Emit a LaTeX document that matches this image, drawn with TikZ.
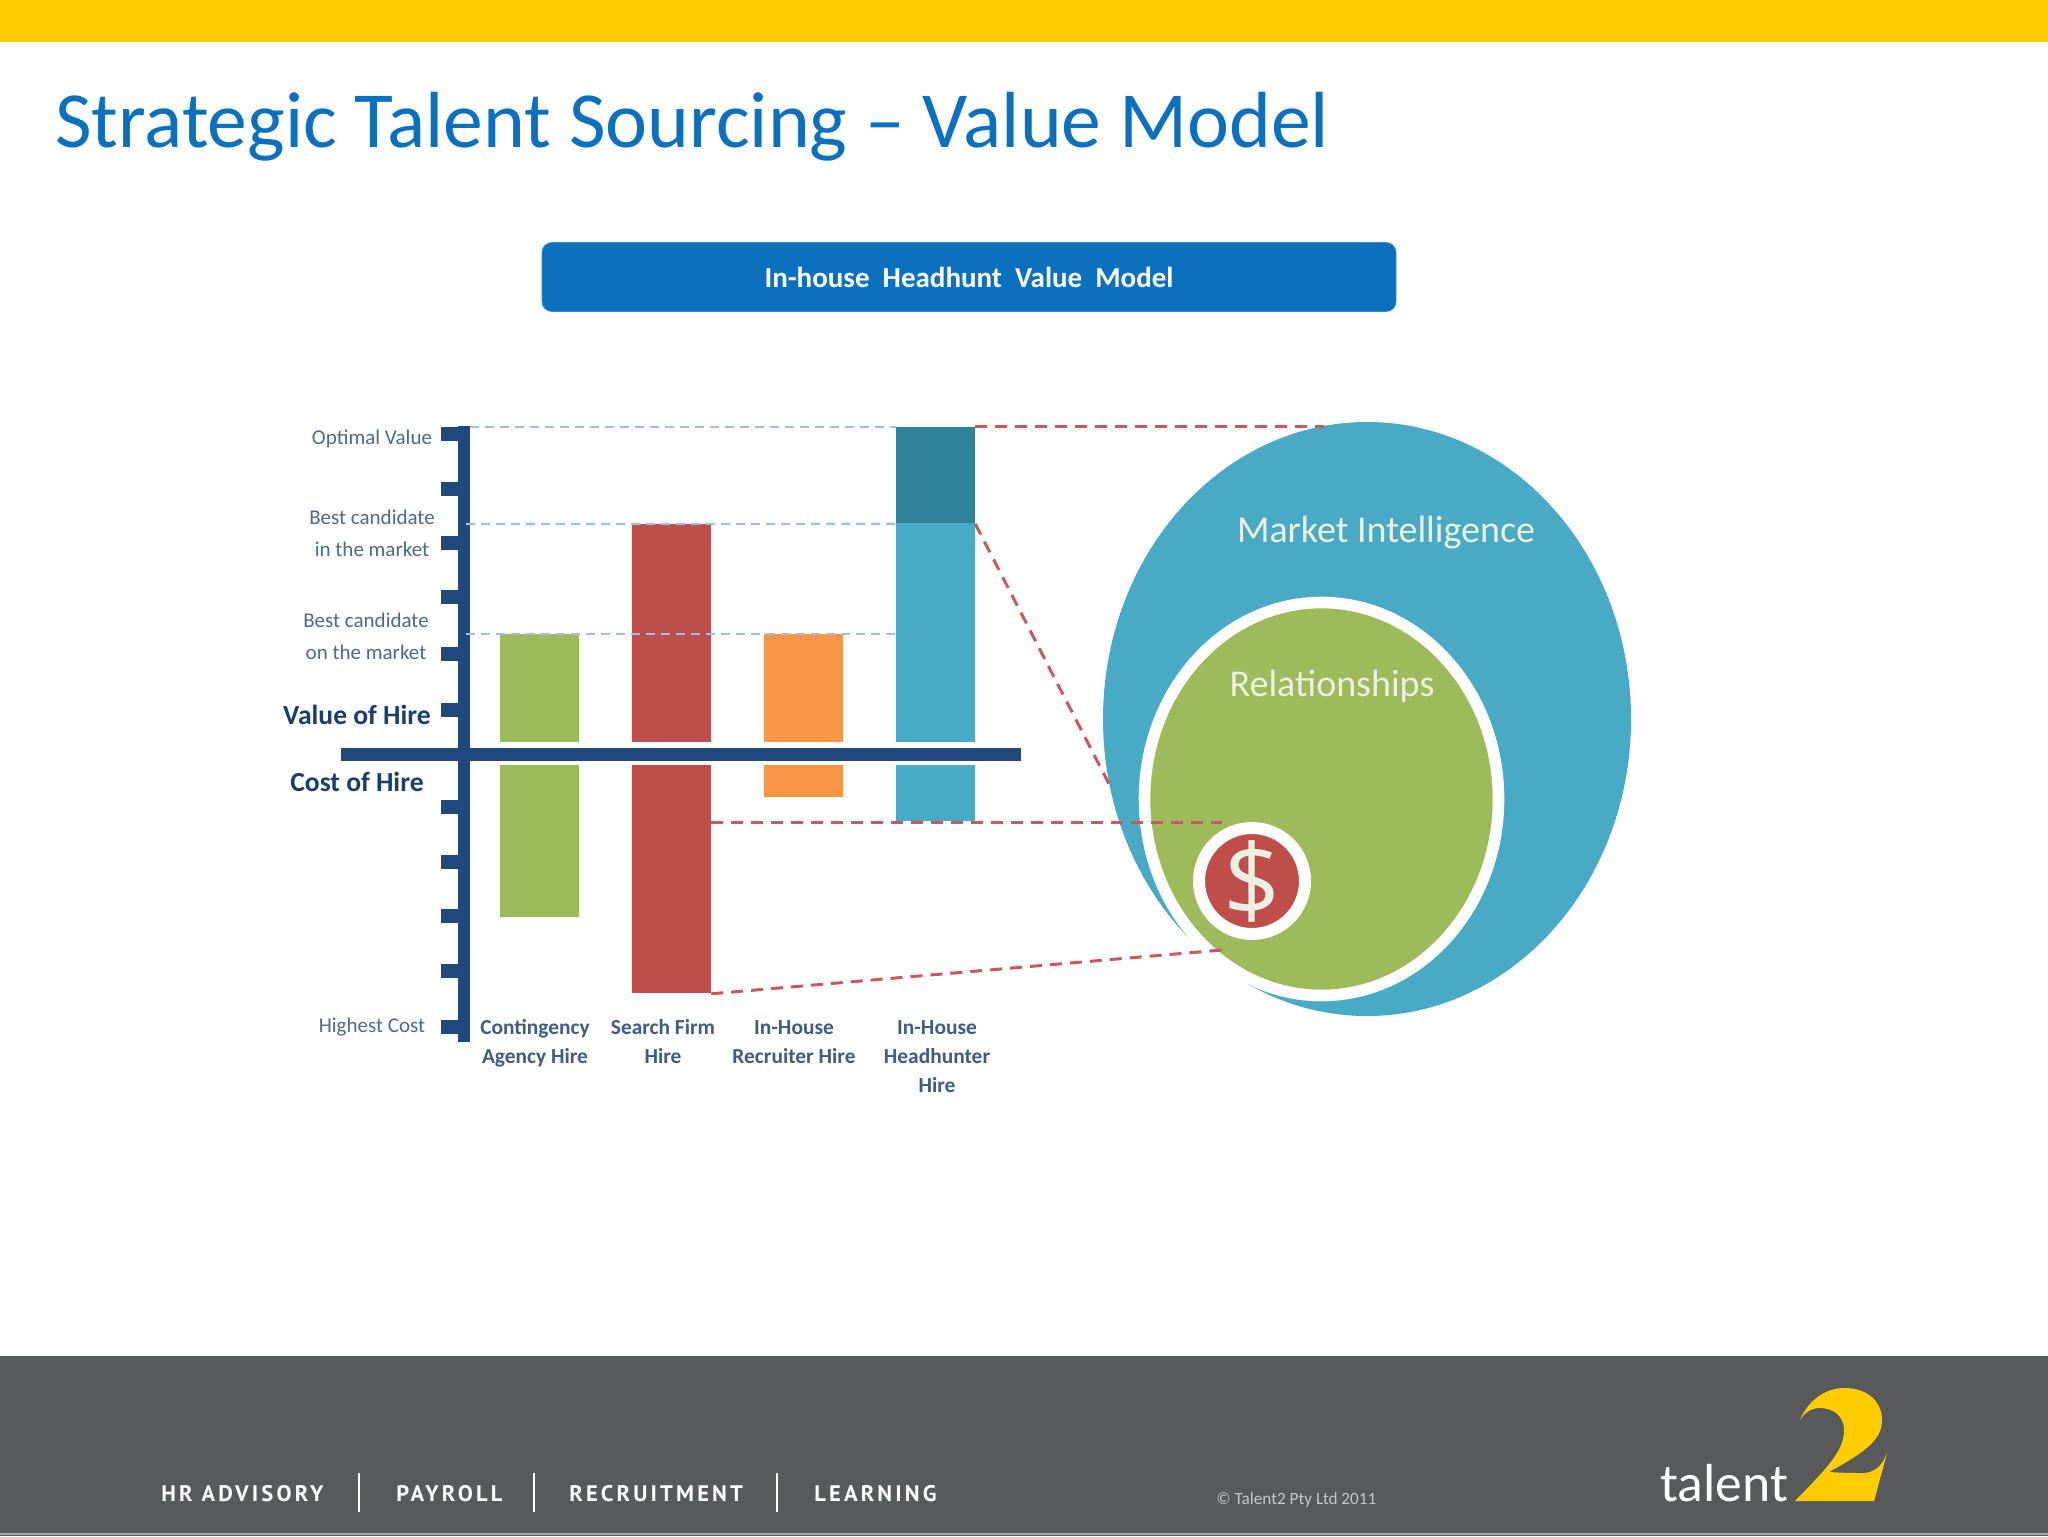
\documentclass[tikz,border=0pt]{standalone}
\usepackage{fontspec}
\usepackage{xcolor}
\usepackage{tikz}
\usetikzlibrary{shapes.geometric}
\setmainfont{Carlito}
\newfontfamily\footfont[LetterSpace=14]{PT Sans}
\newfontfamily\signfont{Open Sans}
\definecolor{bandyellow}{RGB}{255, 204, 0}
\definecolor{titleblue}{RGB}{11, 112, 190}
\definecolor{footgrey}{RGB}{88, 89, 91}
\definecolor{axisnavy}{RGB}{31, 73, 125}
\definecolor{labelslate}{RGB}{79, 105, 140}
\definecolor{hirenavy}{RGB}{25, 62, 110}
\definecolor{guideblue}{RGB}{160, 190, 232}
\definecolor{guidered}{RGB}{200, 90, 94}
\definecolor{bargreen}{RGB}{157, 187, 90}
\definecolor{barred}{RGB}{191, 78, 74}
\definecolor{barorange}{RGB}{248, 150, 70}
\definecolor{barblue}{RGB}{73, 170, 197}
\definecolor{bardark}{RGB}{46, 131, 155}
\definecolor{softwhite}{RGB}{236, 240, 226}

\begin{document}
\begin{tikzpicture}[
        x=0.5pt, y=-0.5pt,
        bar/.style={rectangle, anchor=north west, inner sep=0pt, minimum width=39.2pt},
        tag/.style={text=labelslate, font=\fontsize{10.5}{16}\selectfont, align=center},
        hire/.style={text=hirenavy, font=\fontsize{13.8}{16}\selectfont\bfseries},
        hirecat/.style={text=labelslate!70!hirenavy, font=\fontsize{10.7}{14.5}\selectfont\bfseries, align=center},
        footitem/.style={text=white, font=\footfont\fontsize{11.25}{14}\selectfont\bfseries, anchor=base west, inner sep=0pt},
        footbar/.style={white, line width=1pt},
        guide/.style={guideblue, line width=1.1pt, dash pattern=on 4.5pt off 3pt},
        cutline/.style={guidered, line width=1.5pt, dash pattern=on 6pt off 4pt}
    ]
    \useasboundingbox (0,0) rectangle (2048,1536);
    \fill[white] (0,0) rectangle (2048,1536);

    % Header and footer bands
    \fill[bandyellow] (0,0) rectangle (2048,42);
    \fill[footgrey] (0,1356) rectangle (2048,1536);
    \draw[gray!70, line width=1pt] (0,1534) -- (2048,1534);

    \node[anchor=base west, inner sep=0pt, text=titleblue, font=\fontsize{39.8}{44}\selectfont] (title) at (55,148) {Strategic Talent Sourcing -- Value Model};
    \node[rectangle, rounded corners=5pt, fill=titleblue, draw=titleblue!80!white, minimum width=427pt, minimum height=34.5pt, text=white, font=\fontsize{14.5}{16}\selectfont\bfseries] (banner) at (969,277) {In-house\ \ Headhunt\ \ Value\ \ Model};

    % Bars above and below the axis
    \node[bar, fill=bargreen, minimum height=54pt] (agencyup) at (500,634) {};
    \node[bar, fill=bargreen, minimum height=76pt] (agencydown) at (500,765) {};
    \node[bar, fill=barred, minimum height=109pt] (searchup) at (632,524) {};
    \node[bar, fill=barred, minimum height=114pt] (searchdown) at (632,765) {};
    \node[bar, fill=barorange, minimum height=54pt] (recruiterup) at (764,634) {};
    \node[bar, fill=barorange, minimum height=16pt] (recruiterdown) at (764,765) {};
    \node[bar, fill=bardark, minimum height=48pt] (headhunttop) at (896,427) {};
    \node[bar, fill=barblue, minimum height=109.5pt] (headhuntup) at (896,523) {};
    \node[bar, fill=barblue, minimum height=28pt] (headhuntdown) at (896,765) {};

    % Axes with tick marks
    \coordinate (axistop) at (464,426);
    \coordinate (axisbottom) at (464,1042);
    \coordinate (axisleft) at (341,754);
    \coordinate (axisright) at (1021,754);
    \foreach \ypos in {434,489,543,597,654,710,807,862,916,971,1027} {
        \fill[axisnavy] (441,\ypos-7) rectangle (460,\ypos+7);
    }
    \draw[axisnavy, line width=6pt] (axistop) -- (axisbottom);
    \draw[axisnavy, line width=6.5pt] (axisleft) -- (axisright);

    % Circles
    \node[ellipse, fill=barblue, minimum width=264pt, minimum height=297pt, inner sep=0pt] (market) at (1367,719) {};
    \node[ellipse, fill=bargreen, draw=white, line width=5.8pt, minimum width=177pt, minimum height=196.5pt, inner sep=0pt] (relations) at (1321.5,799) {};
    \node[circle, fill=barred, draw=white, line width=6pt, minimum width=53pt, minimum height=53pt, inner sep=0pt, text=softwhite, font=\signfont\fontsize{50}{50}\selectfont] (dollar) at (1252,881) {\$};
    \node[text=softwhite, font=\fontsize{19}{24}\selectfont] (marketlabel) at (1386,533) {Market Intelligence};
    \node[text=softwhite, font=\fontsize{19}{24}\selectfont] (relationslabel) at (1332,686) {Relationships};

    % Guide lines
    \coordinate (optimalstart) at (470,427);
    \coordinate (bestinstart) at (466,524);
    \coordinate (bestonstart) at (466,634);
    \draw[guide] (optimalstart) -- (headhunttop.north west);
    \draw[guide] (bestinstart) -- (headhunttop.south west);
    \draw[guide] (bestonstart) -- (headhuntup.west |- bestonstart);
    \coordinate (toptouch) at (1324,426);
    \coordinate (sidetouch) at (1109,784);
    \coordinate (dollartop) at (1222,822);
    \coordinate (dollarbottom) at (1222,950);
    \draw[cutline] (headhunttop.north east) ++(0,-1) -- (toptouch);
    \draw[cutline] (headhunttop.south east) -- (sidetouch);
    \draw[cutline] (searchdown.east |- dollartop) -- (dollartop);
    \draw[cutline] (searchdown.south east) -- (dollarbottom);

    % Axis labels
    \node[tag] (optimal) at (372,439) {Optimal Value};
    \node[tag] (bestin) at (372,533) {Best candidate\\in the market};
    \node[tag] (beston) at (366,636) {Best candidate\\on the market};
    \node[hire] (value) at (357,715) {Value of Hire};
    \node[hire] (cost) at (357,782) {Cost of Hire};
    \node[tag] (highest) at (372,1027) {Highest Cost};

    % Category labels
    \node[hirecat, anchor=north] (agencyname) at (535,1012.5) {Contingency\\Agency Hire};
    \node[hirecat, anchor=north] (searchname) at (663,1012.5) {Search Firm\\Hire};
    \node[hirecat, anchor=north] (recruitername) at (794,1014) {In-House\\Recruiter Hire};
    \node[hirecat, anchor=north] (headhuntname) at (937,1014) {In-House\\Headhunter\\Hire};

    % Footer
    \node[footitem] (advisory) at (161,1501) {HR ADVISORY};
    \node[footitem] (payroll) at (396,1501) {PAYROLL};
    \node[footitem] (recruitment) at (569,1501) {RECRUITMENT};
    \node[footitem] (learning) at (814,1501) {LEARNING};
    \foreach \xpos in {359,534,777} {
        \draw[footbar] (\xpos,1473) -- (\xpos,1512);
    }
    \node[anchor=base west, inner sep=0pt, text=gray!45, font=\fontsize{8.6}{10}\selectfont] (copyright) at (1216,1504) {© Talent2 Pty Ltd 2011};

    % Logo
    \node[anchor=base west, inner sep=0pt, text=white, font=\fontsize{26.8}{28}\selectfont] (logotext) at (1660,1501) {talent};
    \fill[bandyellow] (1800,1420) .. controls (1808,1400) and (1826,1388) .. (1844,1388)
        .. controls (1868,1388) and (1882,1402) .. (1882,1420)
        .. controls (1882,1440) and (1865,1452) .. (1829,1472)
        .. controls (1845,1473) and (1855,1473) .. (1864,1473)
        .. controls (1875,1472) and (1882,1466) .. (1887,1453)
        -- (1874,1501) -- (1795,1501)
        .. controls (1830,1465) and (1844,1450) .. (1844,1430)
        .. controls (1844,1415) and (1832,1408) .. (1820,1408)
        .. controls (1811,1408) and (1804,1413) .. (1800,1420) -- cycle;
\end{tikzpicture}
\end{document}
